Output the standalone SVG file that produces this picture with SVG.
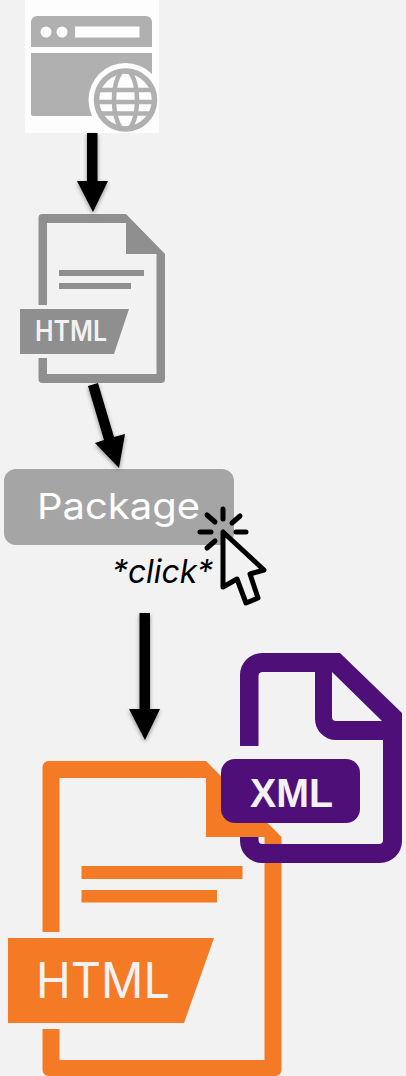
<svg xmlns="http://www.w3.org/2000/svg" width="406" height="1076" viewBox="0 0 406 1076">
<style>
.arrow{fill:#000;filter:url(#shadow)}
.grey{fill:#8f8f8f}
.orange{fill:#f57a25}
.purple{fill:#4f0f78}
.globe{fill:none;stroke:#b0b0b0;stroke-width:4.500}
.ray{stroke:#000;stroke-width:5;stroke-linecap:round;fill:none}
text{font-family:Inter,"Open Sans","Liberation Sans",sans-serif}
</style>
<defs>
<filter id="shadow" x="-50%" y="-20%" width="200%" height="150%"><feDropShadow dx="0" dy="2" stdDeviation="2" flood-color="#000" flood-opacity="0.4"/></filter>
<filter id="soft" x="-20%" y="-20%" width="140%" height="140%"><feGaussianBlur stdDeviation="0.5"/></filter>
<clipPath id="sq"><rect x="25" y="0" width="134" height="133"/></clipPath>
<clipPath id="gl"><circle cx="125.500" cy="100" r="29"/></clipPath>
</defs>
<rect width="406" height="1076" fill="#f2f2f2"/>
<g id="browser">
<rect x="25" y="0" width="134" height="133" fill="#fdfdfd"/>
<path d="M31 47V22a6 6 0 0 1 6-6H146a6 6 0 0 1 6 6V47Z" fill="#b0b0b0"/>
<circle cx="46" cy="32" r="5.500" fill="#fdfdfd"/><circle cx="62" cy="32" r="5.500" fill="#fdfdfd"/>
<rect x="75" y="26.500" width="64.500" height="11" fill="#fdfdfd"/>
<path d="M31 53H152V116H33a2 2 0 0 1-2-2Z" fill="#b0b0b0"/>
<circle cx="125.500" cy="100" r="37" fill="#fdfdfd" clip-path="url(#sq)"/>
<circle cx="125.500" cy="100" r="29" fill="#fdfdfd" stroke="#b0b0b0" stroke-width="5.500"/>
<g clip-path="url(#gl)">
<ellipse class="globe" cx="125.500" cy="100" rx="11.500" ry="30"/>
<path class="globe" d="M90 90H160M90 102H160M90 113.500H160"/>
</g>
</g>
<g id="html-grey">
<path class="grey" fill-rule="evenodd" d="M38.500 305V218a4 4 0 0 1 4-4H126L165 254V379a4 4 0 0 1-4 4H42.500a4 4 0 0 1-4-4V358H47V374H156.500V254H126V223H47V305Z"/>
<rect class="grey" x="59" y="270" width="85" height="6"/>
<rect class="grey" x="59" y="283" width="72" height="6"/>
<path class="grey" d="M20 309H129L114 354H20Z"/>
<text x="35" y="341" font-size="28" font-weight="600" fill="#f2f2f2" textLength="72" lengthAdjust="spacingAndGlyphs">HTML</text>
</g>
<g id="package">
<rect x="4" y="469" width="230" height="76" rx="12" fill="#a5a5a5"/>
<text x="37" y="519" font-size="36" fill="#fff" textLength="163" lengthAdjust="spacingAndGlyphs">Package</text>
</g>
<g id="click-label">
<text x="112" y="583" font-size="32" font-style="italic" fill="#000" textLength="101" lengthAdjust="spacingAndGlyphs">*click*</text>
</g>
<g id="cursor" filter="url(#soft)">
<path d="M223 532V587L237 579L246 603L258 598L250 574L264 570Z" fill="#f2f2f2" stroke="#000" stroke-width="5" stroke-linejoin="round"/>
<path class="ray" d="M223 509V519M232 523L240 516M236 532H246M200 532H211M207 515L215 522M207 548L215 541"/>
</g>
<g id="html-orange">
<path class="orange" d="M42.500 932V767a6 6 0 0 1 6-6H206L281.500 837V1070a6 6 0 0 1-6 6H48.500a6 6 0 0 1-6-6V1029H59.500V1060H264.500V837H206V778H59.500V932Z"/>
<rect class="orange" x="81.500" y="866" width="161" height="13"/>
<rect class="orange" x="81.500" y="890" width="135.500" height="12.500"/>
<path class="orange" d="M8 938H214L184 1023H8Z"/>
<text x="36" y="998" font-size="49" fill="#f2f2f2" textLength="134" lengthAdjust="spacingAndGlyphs">HTML</text>
</g>
<g id="xml-purple">
<path class="purple" d="M240 746V675a22 22 0 0 1 22-22H340L402 713V841a22 22 0 0 1-22 22H262a22 22 0 0 1-22-22V837H258.500V840a4 4 0 0 0 4 4H379a4 4 0 0 0 4-4V740H336a21 21 0 0 1-21-21V672H262a4 4 0 0 0-3.500 4V746ZM332 672V717a4 4 0 0 0 4 4H382Z" fill-rule="evenodd"/>
<rect class="purple" x="221" y="759" width="139" height="64" rx="14"/>
<text x="250" y="807" font-size="41" font-weight="700" fill="#f2f2f2" textLength="83" lengthAdjust="spacingAndGlyphs" style="font-family:'Liberation Sans',sans-serif">XML</text>
</g>
<g id="connectors">
<path class="arrow" d="M87 133H97.500V181H108L93 212L77 181H87Z"/>
<path class="arrow" d="M88 386L98 383L114 437L125 434L119 468L95 443L104 440Z"/>
<path class="arrow" d="M139.500 613H150V709H160L145 740L129 709H139.500Z"/>
</g>
</svg>
